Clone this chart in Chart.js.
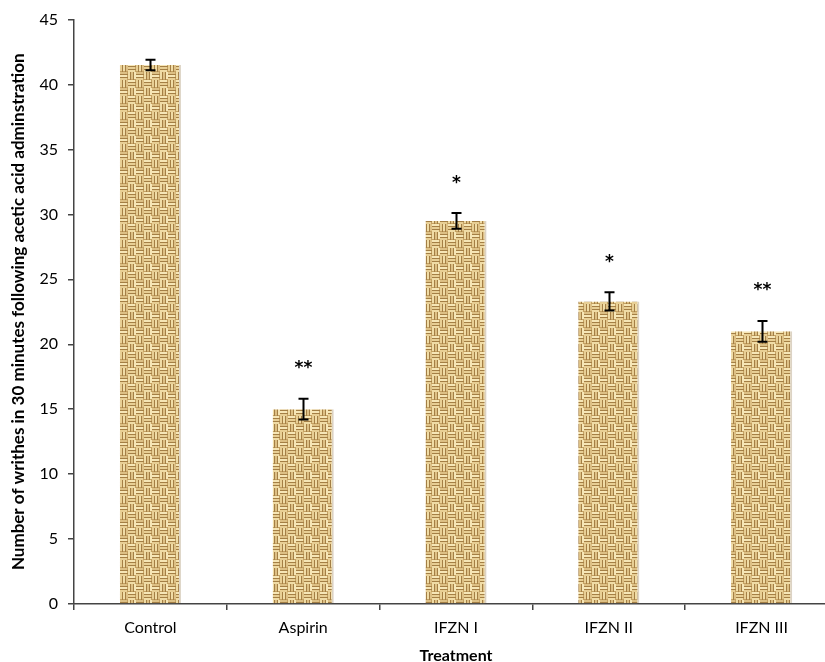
<!DOCTYPE html>
<html>
<head>
<meta charset="utf-8">
<script src="https://cdn.jsdelivr.net/npm/chart.js@4.4.0/dist/chart.umd.min.js"></script>
<style>
  html, body { margin: 0; padding: 0; background: #fff; overflow: hidden; }
  #wrap { width: 838px; height: 662px; position: relative; }
</style>
</head>
<body>
<div id="wrap"><canvas id="chart"></canvas></div>
<script>
// writhing test data
const treatments = ["Control", "Aspirin", "IFZN I", "IFZN II", "IFZN III"];
const writhes = [41.5, 15.0, 29.5, 23.3, 21.0];
const errors = [0.4, 0.8, 0.6, 0.7, 0.8];
const signif = ["", "**", "*", "*", "**"];
const yTicks = [0, 5, 10, 15, 20, 25, 30, 35, 40, 45];

const FONT = "Lato, 'Open Sans', sans-serif";

// woven burlap texture for the bars
function makeWeave() {
    const c = document.createElement("canvas");
    c.width = 16; c.height = 16;
    const g = c.getContext("2d");
    g.fillStyle = "#c4a163";
    g.fillRect(0, 0, 16, 16);
    const lights = ["#f6e6b6", "#e8cf95", "#f0dca6", "#ddc085"];
    for (let by = 0; by < 2; by++) {
        for (let bx = 0; bx < 2; bx++) {
            const x0 = bx * 8, y0 = by * 8;
            const horiz = (bx + by) % 2 === 0;
            for (let k = 0; k < 3; k++) {
                g.fillStyle = lights[(k + bx + by * 2) % 4];
                if (horiz) g.fillRect(x0, y0 + k * 3, 7, 2);
                else g.fillRect(x0 + k * 3, y0, 2, 7);
                g.fillStyle = "#a47f45";
                if (horiz) g.fillRect(x0, y0 + k * 3 + 2, 8, 1);
                else g.fillRect(x0 + k * 3 + 2, y0, 1, 8);
            }
        }
    }
    return document.getElementById("chart").getContext("2d").createPattern(c, "repeat");
}

const errorBars = {
    id: "errorBars",
    afterDatasetsDraw(chart) {
        const ctx = chart.ctx;
        const y = chart.scales.y;
        const meta = chart.getDatasetMeta(0);
        ctx.save();
        ctx.strokeStyle = "#000";
        ctx.lineWidth = 2;
        meta.data.forEach((bar, i) => {
            const x = Math.round(bar.x) + 0.5;
            const top = y.getPixelForValue(writhes[i] + errors[i]);
            const bot = y.getPixelForValue(writhes[i] - errors[i]);
            ctx.beginPath();
            ctx.moveTo(x, top); ctx.lineTo(x, bot);
            ctx.moveTo(x - 5, top); ctx.lineTo(x + 5, top);
            ctx.moveTo(x - 5, bot); ctx.lineTo(x + 5, bot);
            ctx.stroke();
            if (signif[i]) {
                ctx.fillStyle = "#000";
                ctx.font = "bold 17px 'DejaVu Sans', sans-serif";
                ctx.textAlign = "center";
                ctx.textBaseline = "middle";
                ctx.fillText(signif[i], x, top - 30);
            }
        });
        ctx.restore();
    }
};

new Chart(document.getElementById("chart"), {
    type: "bar",
    data: {
        labels: treatments,
        datasets: [{
            data: writhes,
            backgroundColor: makeWeave(),
            borderColor: "rgba(140,110,60,0.3)",
            borderWidth: { right: 2, left: 0, top: 0, bottom: 0 },
            barPercentage: 0.8,
            categoryPercentage: 0.5,
        }]
    },
    options: {
        responsive: true,
        maintainAspectRatio: false,
        animation: false,
        layout: { padding: { top: 10, right: 0, left: 0, bottom: 0 } },
        plugins: { legend: { display: false }, tooltip: { enabled: false } },
        scales: {
            x: {
                grid: { drawOnChartArea: false, color: "#444", tickLength: 6, lineWidth: 1.5 },
                border: { color: "#444", width: 1.5 },
                ticks: { color: "#000", font: { family: FONT, size: 16 }, padding: 8 },
                title: {
                    display: true, text: "Treatment", color: "#000",
                    font: { family: FONT, size: 16, weight: "bold" }, padding: { top: 14, bottom: -3 }
                },
                afterFit: (s) => { s.height = 58; }
            },
            y: {
                min: 0, max: 45,
                afterBuildTicks: (s) => { s.ticks = yTicks.map(v => ({ value: v })); },
                grid: { drawOnChartArea: false, color: "#444", tickLength: 6, lineWidth: 1.5 },
                border: { color: "#444", width: 1.5 },
                ticks: { color: "#000", font: { family: FONT, size: 16 }, padding: 10 },
                title: {
                    display: true,
                    text: "Number of writhes in 30 minutes following acetic acid adminstration",
                    color: "#000", font: { family: FONT, size: 17, weight: "bold" }, padding: { top: 8 }
                },
                afterFit: (s) => { s.width = 74; }
            }
        }
    },
    plugins: [errorBars]
});
</script>
</body>
</html>
